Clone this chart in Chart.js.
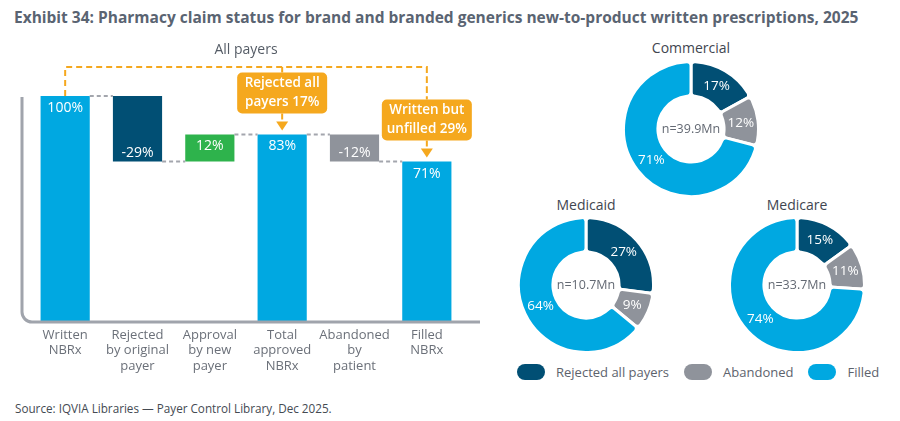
<!DOCTYPE html>
<html>
<head>
<meta charset="utf-8">
<script src="https://cdn.jsdelivr.net/npm/chart.js@4.4.1/dist/chart.umd.min.js"></script>
<style>
  body { margin: 0; background: #fff; font-family: "Open Sans", sans-serif; }
  #page { position: relative; width: 900px; height: 421px; overflow: hidden; }
  h1 { position: absolute; left: 14px; top: 6px; margin: 0; font-size: 15.5px; font-weight: 700; color: #5a6472; white-space: nowrap; line-height: 22px; }
  .src { position: absolute; left: 15px; top: 399px; font-size: 11.7px; color: #444a52; line-height: 18px; white-space: nowrap; }
  #bars { position: absolute; left: 0; top: 0; }
  .ring { position: absolute; }
  .ringTitle { position: absolute; font-size: 14px; font-weight: 400; color: #3f4650; transform: translateX(-50%); white-space: nowrap; line-height: 20px; }
  #legend { position: absolute; left: 517px; top: 362px; display: flex; align-items: center; font-size: 13px; color: #5d636d; line-height: 20px; white-space: nowrap; }
  #legend .item { display: flex; align-items: center; margin-right: 15px; }
  #legend .pill { width: 28px; height: 16px; border-radius: 8px; margin-right: 11px; }
</style>
</head>
<body>
<div id="page">
  <h1>Exhibit 34: Pharmacy claim status for brand and branded generics new-to-product written prescriptions, 2025</h1>
  <canvas id="bars" width="490" height="390"></canvas>
  <div id="legend"></div>
  <div class="src">Source: IQVIA Libraries — Payer Control Library, Dec 2025.</div>
</div>
<script>
// waterfall data
const categories = [['Written', 'NBRx'], ['Rejected', 'by original', 'payer'], ['Approval', 'by new', 'payer'], ['Total', 'approved', 'NBRx'], ['Abandoned', 'by', 'patient'], ['Filled', 'NBRx']];
const barStart = [0, 100, 71, 0, 83, 0];
const barEnd = [100, 71, 83, 83, 71, 71];
const barLabels = ['100%', '-29%', '12%', '83%', '-12%', '71%'];
const barColors = ['#00a8e1', '#014f74', '#2eb34c', '#00a8e1', '#8f939b', '#00a8e1'];
const groupTitle = 'All payers';
const callouts = [
  { bar: 3, lines: ['Rejected all', 'payers 17%'] },
  { bar: 5, lines: ['Written but', 'unfilled 29%'] },
];

// doughnut data
const segmentNames = ['Rejected all payers', 'Abandoned', 'Filled'];
const segmentColors = ['#014f74', '#8f939b', '#00a8e1'];
const payers = ['Commercial', 'Medicaid', 'Medicare'];
const commercialShare = [17, 12, 71];
const medicaidShare = [27, 9, 64];
const medicareShare = [15, 11, 74];
const payerTotals = ['n=39.9Mn', 'n=10.7Mn', 'n=33.7Mn'];

const ORANGE = '#f5a81e';

const waterfallMarks = {
  id: 'waterfallMarks',
  afterDatasetsDraw(chart) {
    const { ctx, chartArea: a, scales: { y } } = chart;
    const bars = chart.getDatasetMeta(0).data;
    ctx.save();

    // axis with rounded corner
    const ax = a.left - 7;
    ctx.strokeStyle = '#a0a4ac';
    ctx.lineWidth = 3;
    ctx.beginPath();
    ctx.moveTo(ax, y.getPixelForValue(100) + 1);
    ctx.arcTo(ax, a.bottom, ax + 12, a.bottom, 10);
    ctx.lineTo(a.right + 17, a.bottom);
    ctx.stroke();

    // grey connectors
    ctx.strokeStyle = '#a3a6ad';
    ctx.lineWidth = 2;
    ctx.setLineDash([4, 3]);
    for (let i = 0; i < bars.length - 1; i++) {
      const py = y.getPixelForValue(barEnd[i]);
      ctx.beginPath();
      ctx.moveTo(bars[i].x + bars[i].width / 2, py);
      ctx.lineTo(bars[i + 1].x - bars[i + 1].width / 2, py);
      ctx.stroke();
    }

    // value labels
    ctx.setLineDash([]);
    ctx.fillStyle = '#fff';
    ctx.font = '14px "Open Sans"';
    ctx.textAlign = 'center';
    ctx.textBaseline = 'middle';
    bars.forEach((b, i) => {
      const end = y.getPixelForValue(barEnd[i]);
      const py = barEnd[i] < barStart[i] ? end - 9 : end + 12;
      ctx.fillText(barLabels[i], b.x, py);
    });

    // bracket and callouts
    const yb = y.getPixelForValue(100) - 29;
    const boxes = callouts.map(c => {
      const cx = bars[c.bar].x;
      const tip = y.getPixelForValue(barEnd[c.bar]) - 4;
      const bottom = tip - 17;
      return { cx, tip, bottom, top: bottom - 41, lines: c.lines };
    });
    const last = boxes[boxes.length - 1];
    ctx.strokeStyle = ORANGE;
    ctx.lineWidth = 2;
    ctx.setLineDash([6, 4]);
    ctx.beginPath();
    ctx.moveTo(bars[0].x, y.getPixelForValue(100));
    ctx.lineTo(bars[0].x, yb);
    ctx.lineTo(last.cx, yb);
    ctx.lineTo(last.cx, last.top);
    boxes.forEach(bx => {
      ctx.moveTo(bx.cx, yb);
      ctx.lineTo(bx.cx, bx.top);
      ctx.moveTo(bx.cx, bx.bottom);
      ctx.lineTo(bx.cx, bx.tip - 8);
    });
    ctx.stroke();
    ctx.setLineDash([]);

    boxes.forEach(bx => {
      ctx.fillStyle = ORANGE;
      ctx.beginPath();
      ctx.roundRect(bx.cx - 45, bx.top, 90, bx.bottom - bx.top, 5);
      ctx.fill();
      ctx.beginPath();
      ctx.moveTo(bx.cx - 6, bx.tip - 9);
      ctx.lineTo(bx.cx + 6, bx.tip - 9);
      ctx.lineTo(bx.cx, bx.tip);
      ctx.closePath();
      ctx.fill();
      ctx.fillStyle = '#fff';
      ctx.font = '600 13.5px "Open Sans"';
      ctx.fillText(bx.lines[0], bx.cx, bx.top + 11);
      ctx.fillText(bx.lines[1], bx.cx, bx.top + 30);
    });

    ctx.fillStyle = '#555c66';
    ctx.font = '14px "Open Sans"';
    ctx.fillText(groupTitle, (a.left + a.right) / 2, yb - 17);
    ctx.restore();
  }
};

new Chart(document.getElementById('bars'), {
  type: 'bar',
  data: {
    labels: categories,
    datasets: [{
      data: barStart.map((s, i) => [s, barEnd[i]]),
      backgroundColor: barColors,
      borderWidth: 0,
      categoryPercentage: 1,
      barPercentage: 0.68,
    }],
  },
  options: {
    responsive: false,
    animation: false,
    events: [],
    layout: { padding: { top: 96, left: 29, right: 27, bottom: 0 } },
    plugins: { legend: { display: false }, tooltip: { enabled: false } },
    scales: {
      x: {
        grid: { display: false, drawTicks: false },
        border: { display: false },
        ticks: { color: '#6b7079', font: { family: 'Open Sans', size: 13, lineHeight: 1.2 }, padding: 5, maxRotation: 0, autoSkip: false },
        afterFit: s => { s.height = 68; },
      },
      y: { display: false, min: 0, max: 100 },
    },
  },
  plugins: [waterfallMarks],
});

const ringText = {
  id: 'ringText',
  afterDatasetsDraw(chart, args, opts) {
    const { ctx } = chart;
    const meta = chart.getDatasetMeta(0);
    const vals = chart.data.datasets[0].data;
    ctx.save();
    ctx.textAlign = 'center';
    ctx.textBaseline = 'middle';
    ctx.font = '13.5px "Open Sans"';
    ctx.fillStyle = '#fff';
    meta.data.forEach((arc, i) => {
      const p = arc.tooltipPosition();
      ctx.fillText(vals[i] + '%', p.x, p.y);
    });
    const c = meta.data[0];
    ctx.font = '12.5px "Open Sans"';
    ctx.fillStyle = '#636973';
    ctx.fillText(opts.total, c.x, c.y);
    ctx.restore();
  }
};

const ringSpots = [
  { cx: 691, cy: 129, ty: 48 },
  { cx: 586, cy: 285, ty: 205 },
  { cx: 797, cy: 285, ty: 205 },
];
const shares = [commercialShare, medicaidShare, medicareShare];
const page = document.getElementById('page');
payers.forEach((name, i) => {
  const spot = ringSpots[i];
  const t = document.createElement('div');
  t.className = 'ringTitle';
  t.textContent = name;
  t.style.left = spot.cx + 'px';
  t.style.top = (spot.ty - 10) + 'px';
  page.appendChild(t);
  const cv = document.createElement('canvas');
  cv.className = 'ring';
  cv.width = 138; cv.height = 138;
  cv.style.left = (spot.cx - 69) + 'px';
  cv.style.top = (spot.cy - 69) + 'px';
  page.appendChild(cv);
  new Chart(cv, {
    type: 'doughnut',
    data: {
      labels: segmentNames,
      datasets: [{
        data: shares[i],
        backgroundColor: segmentColors,
        borderColor: '#fff',
        borderWidth: 3,
        borderRadius: 4,
        hoverOffset: 0,
        offset: 0,
      }],
    },
    options: {
      responsive: false,
      animation: false,
      events: [],
      cutout: '49%',
      plugins: { legend: { display: false }, tooltip: { enabled: false }, ringText: { total: payerTotals[i] } },
    },
    plugins: [ringText],
  });
});

const legend = document.getElementById('legend');
segmentNames.forEach((n, i) => {
  const item = document.createElement('div');
  item.className = 'item';
  item.innerHTML = '<span class="pill" style="background:' + segmentColors[i] + '"></span><span>' + n + '</span>';
  legend.appendChild(item);
});
</script>
</body>
</html>
